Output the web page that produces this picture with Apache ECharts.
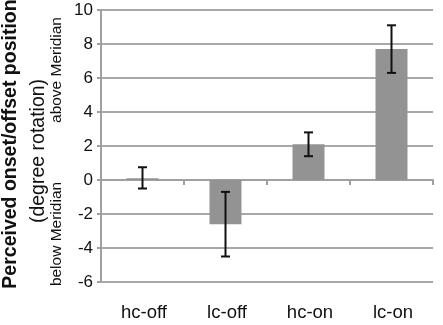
<!DOCTYPE html>
<html>
<head>
<meta charset="utf-8">
<script src="https://cdn.jsdelivr.net/npm/echarts@6/dist/echarts.min.js"></script>
<style>
  html, body { margin: 0; padding: 0; background: #fff; }
  #chart { width: 443px; height: 325px; }
</style>
</head>
<body>
<div id="chart"></div>
<script>
const categories = ['hc-off', 'lc-off', 'hc-on', 'lc-on'];
const means = [0.1, -2.6, 2.1, 7.7];
const errLow = [-0.5, -4.5, 1.4, 6.3];
const errHigh = [0.75, -0.7, 2.8, 9.1];

const FONT = 'Liberation Sans, Arial, Helvetica, sans-serif';
const chart = echarts.init(document.getElementById('chart'));

// error bars drawn as custom series
const errData = categories.map((c, i) => [i, errLow[i], errHigh[i]]);

const renderErr = (params, api) => {
  const lo = api.coord([api.value(0), api.value(1)]);
  const hi = api.coord([api.value(0), api.value(2)]);
  const cap = 4.5;
  const style = { stroke: '#111', lineWidth: 2 };
  return {
    type: 'group',
    children: [
      { type: 'line', shape: { x1: hi[0], y1: hi[1], x2: lo[0], y2: lo[1] }, style },
      { type: 'line', shape: { x1: hi[0] - cap, y1: hi[1], x2: hi[0] + cap, y2: hi[1] }, style },
      { type: 'line', shape: { x1: lo[0] - cap, y1: lo[1], x2: lo[0] + cap, y2: lo[1] }, style }
    ]
  };
};

const sideText = (text, x, y, font) => ({
  type: 'text', x, y, rotation: Math.PI / 2,
  style: { text, font: font + ' ' + FONT, fill: '#111', align: 'center', verticalAlign: 'middle' }
});

chart.setOption({
  animation: false,
  grid: { left: 101, right: 10, top: 10, bottom: 43 },
  xAxis: {
    type: 'category',
    data: categories,
    axisLine: { onZero: true, lineStyle: { color: '#a0a0a0', width: 2 } },
    axisTick: { show: true, length: 5, lineStyle: { color: '#a0a0a0', width: 2 } },
    axisLabel: { show: false }
  },
  yAxis: {
    type: 'value',
    min: -6, max: 10, interval: 2,
    axisLine: { show: true, lineStyle: { color: '#a0a0a0', width: 2 } },
    axisTick: { show: true, length: 4, lineStyle: { color: '#a0a0a0', width: 2 } },
    axisLabel: { color: '#111', fontSize: 17, fontFamily: FONT, margin: 8 },
    splitLine: { lineStyle: { color: '#a8a8a8', width: 2 } }
  },
  graphic: [
    ...categories.map((c, i) => ({
      type: 'text',
      x: 101 + 83 * i + 43,
      y: 313,
      style: { text: c, font: '18.5px ' + FONT, fill: '#111', align: 'center', verticalAlign: 'middle' }
    })),
    sideText('Perceived onset/offset position', 11, 144, 'bold 19.5px'),
    sideText('(degree rotation)', 39, 151, '19.5px'),
    sideText('above Meridian', 57, 70, '15.5px'),
    sideText('below Meridian', 57, 234, '15.5px')
  ],
  series: [
    {
      type: 'bar',
      data: means,
      barWidth: 32,
      itemStyle: { color: '#939393' }
    },
    {
      type: 'custom',
      renderItem: renderErr,
      data: errData,
      z: 5
    }
  ]
});
</script>
</body>
</html>
